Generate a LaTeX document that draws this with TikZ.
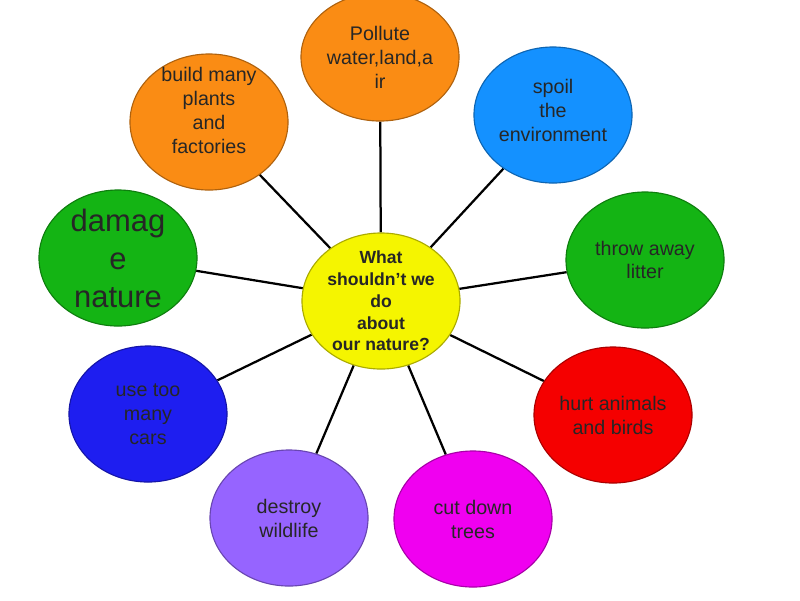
\documentclass[tikz,border=0pt]{standalone}
\usepackage{fontspec}
\setmainfont{Liberation Sans}
\usepackage{tikz}
\usetikzlibrary{shapes.geometric, positioning, backgrounds}

\definecolor{cOrange}{RGB}{250,140,20}
\definecolor{cSky}{RGB}{20,145,255}
\definecolor{cGreen}{RGB}{20,180,20}
\definecolor{cBlue}{RGB}{30,30,240}
\definecolor{cViolet}{RGB}{150,100,255}
\definecolor{cMagenta}{RGB}{240,0,240}
\definecolor{cRed}{RGB}{245,0,0}
\definecolor{cYellow}{RGB}{245,245,0}

\begin{document}
\begin{tikzpicture}[x=0.025cm, y=-0.025cm,
  bub/.style={ellipse, draw=#1!70!black, fill=#1, line width=0.8pt,
    minimum width=3.95cm, minimum height=3.4cm, inner sep=0pt},
  txt/.style={align=center, font=\fontsize{14}{17}\selectfont, text=black!85},
  spoke/.style={line width=1.6pt, black}]
\useasboundingbox (0,0) rectangle (800,600);
% centre bubble and the nine "don'ts" around it
\node[bub=cYellow, label={[txt, font=\bfseries\fontsize{12.5}{15.5}\selectfont]center:What\\shouldn't we\\do\\about\\our nature?}] (hub) at (381,301) {};
\node[bub=cOrange, minimum height=3.2cm, label={[txt, yshift=0cm]center:Pollute\\water,land,a\\ir}] (pollute) at (380,57) {};
\node[bub=cOrange, label={[txt, yshift=0.28cm]center:build many\\plants\\and\\factories}] (build) at (209,122) {};
\node[bub=cSky, label={[txt, yshift=0.12cm]center:spoil\\the\\environment}] (spoil) at (553,115) {};
\node[bub=cGreen, label={[txt, font=\fontsize{22}{27}\selectfont]center:damag\\e\\nature}] (damage) at (118,258) {};
\node[bub=cGreen, label={[txt]center:throw away\\litter}] (litter) at (645,260) {};
\node[bub=cBlue, label={[txt]center:use too\\many\\cars}] (cars) at (148,414) {};
\node[bub=cViolet, label={[txt]center:destroy\\wildlife}] (wildlife) at (289,518) {};
\node[bub=cMagenta, label={[txt]center:cut down\\trees}] (trees) at (473,519) {};
\node[bub=cRed, label={[txt]center:hurt animals\\and birds}] (hurt) at (613,415) {};
\begin{scope}[on background layer]
\foreach \n in {pollute, build, spoil, damage, litter, cars, wildlife, trees, hurt}
  \draw[spoke] (hub) -- (\n);
\end{scope}
\end{tikzpicture}
\end{document}
